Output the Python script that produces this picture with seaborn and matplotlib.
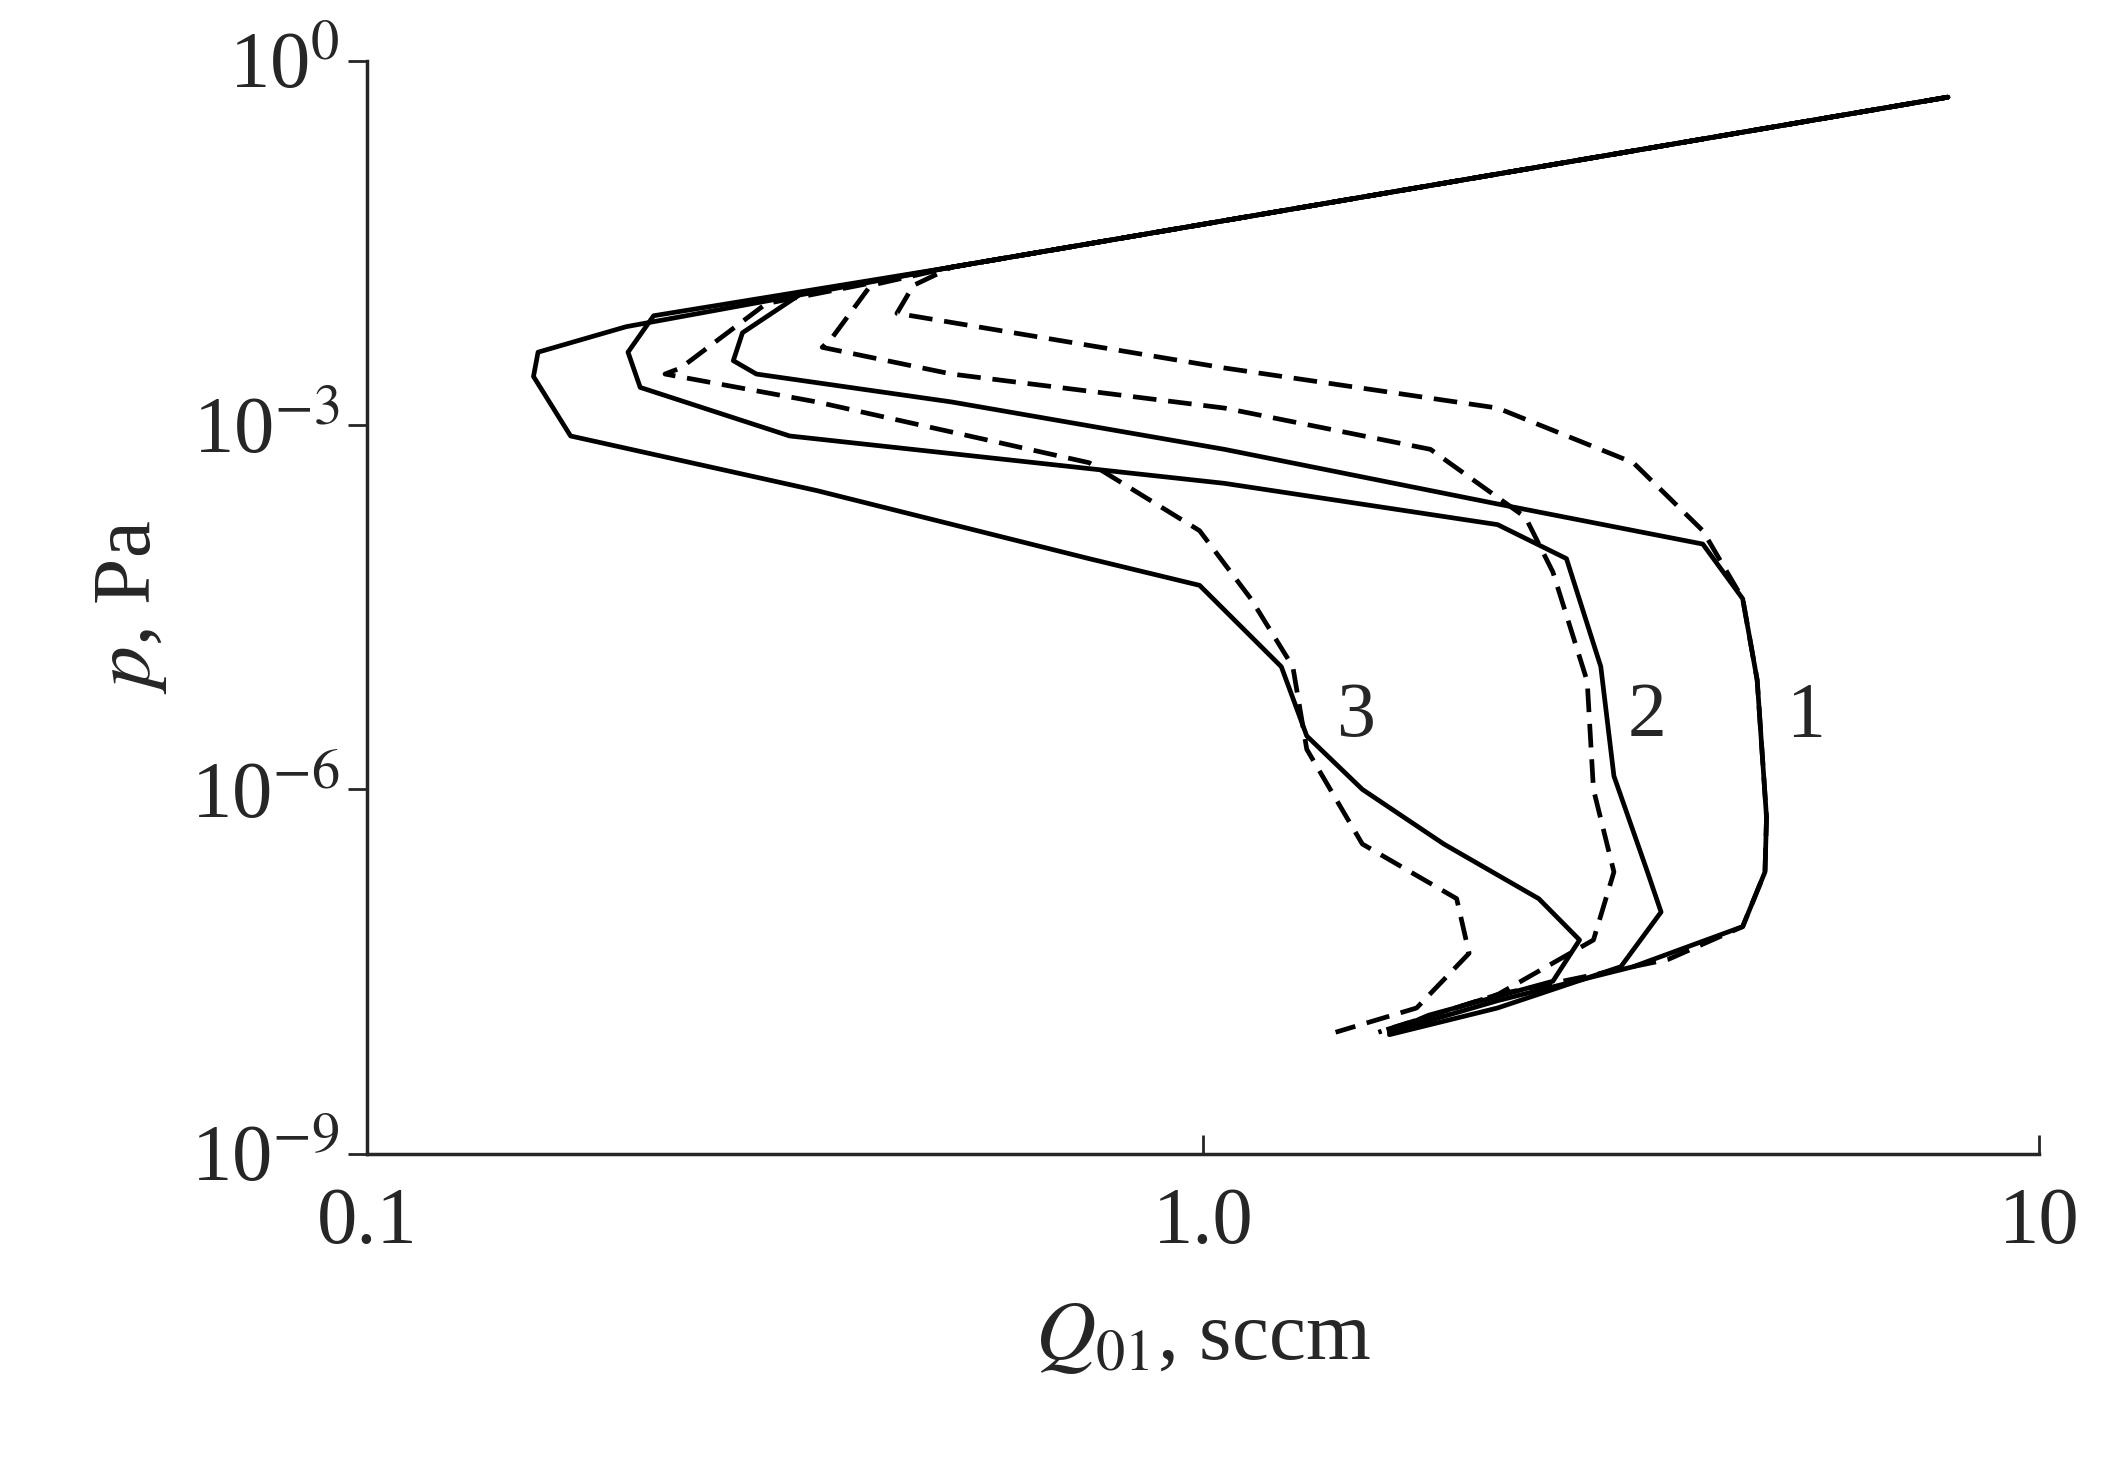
import numpy as np
import pandas as pd
import matplotlib
matplotlib.use("Agg")
import matplotlib.pyplot as plt
import seaborn as sns

# Values: Q in sccm, p given as log10(p / Pa)
trunk_q = [7.78, 0.50]
trunk_lp = [-0.30, -1.70]

s1_q = [0.33, 0.281, 0.274, 0.292, 0.50, 1.06, 2.25, 3.96, 4.42, 4.60, 4.72, 4.70, 4.42, 3.27, 2.25, 1.67]
s1_lp = [-1.92, -2.24, -2.47, -2.58, -2.81, -3.20, -3.65, -3.98, -4.43, -5.10, -6.23, -6.68, -7.13, -7.46, -7.74, -8.00]

s2_q = [0.22, 0.205, 0.212, 0.32, 1.06, 2.25, 2.72, 2.99, 3.10, 3.40, 3.53, 3.16, 2.25, 1.67]
s2_lp = [-2.10, -2.40, -2.69, -3.09, -3.48, -3.82, -4.10, -4.99, -5.89, -6.68, -7.01, -7.46, -7.80, -8.02]

s3_q = [0.204, 0.160, 0.158, 0.175, 0.345, 0.73, 0.99, 1.24, 1.33, 1.55, 1.94, 2.52, 2.82, 2.62, 1.86, 1.67]
s3_lp = [-2.19, -2.40, -2.60, -3.09, -3.54, -4.10, -4.32, -4.99, -5.56, -6.00, -6.45, -6.90, -7.24, -7.58, -7.86, -8.00]

d1_q = [0.45, 0.43, 1.06, 2.25, 3.27, 3.96, 4.42, 4.60, 4.72, 4.70, 4.42, 3.60, 2.25, 1.62]
d1_lp = [-1.85, -2.08, -2.53, -2.86, -3.31, -3.87, -4.43, -5.10, -6.23, -6.68, -7.13, -7.40, -7.69, -8.00]

d2_q = [0.40, 0.358, 0.35, 0.50, 1.06, 1.87, 2.43, 2.62, 2.88, 2.93, 3.10, 2.93, 2.25, 1.62]
d2_lp = [-1.85, -2.30, -2.36, -2.58, -2.86, -3.20, -3.76, -4.21, -5.11, -6.00, -6.68, -7.24, -7.69, -8.00]

d3_q = [0.30, 0.237, 0.227, 0.345, 0.73, 0.99, 1.14, 1.28, 1.33, 1.55, 2.01, 2.08, 1.80, 1.44]
d3_lp = [-2.00, -2.53, -2.58, -2.81, -3.31, -3.87, -4.43, -4.99, -5.67, -6.45, -6.90, -7.35, -7.80, -8.00]

labels = ["1", "2", "3"]
label_q = [5.25, 3.40, 1.52]
label_lp = [-5.41, -5.41, -5.41]

curves = [("s1", "solid", s1_q, s1_lp), ("s2", "solid", s2_q, s2_lp), ("s3", "solid", s3_q, s3_lp),
          ("d1", "dashed", d1_q, d1_lp), ("d2", "dashed", d2_q, d2_lp), ("d3", "dashed", d3_q, d3_lp)]
rows = []
for name, kind, q, lp in curves:
    # branches that leave the trunk above Q=0.5 start from the top point only
    if q[0] < 0.5:
        qq, ll = trunk_q + q, trunk_lp + lp
    else:
        qq, ll = trunk_q[:1] + q, trunk_lp[:1] + lp
    for i, (a, b) in enumerate(zip(qq, ll)):
        rows.append({"curve": name, "kind": kind, "order": i, "Q": a, "p": 10.0 ** b})
df = pd.DataFrame(rows)

sns.set_style("ticks")
plt.rcParams["font.family"] = ["Liberation Serif", "DejaVu Serif"]
plt.rcParams["mathtext.fontset"] = "stix"

fig = plt.figure(figsize=(21.24, 14.81), dpi=100)
ax = fig.add_axes([0.173, 0.221, 0.787, 0.738])
for name, g in df.groupby("curve"):
    kind = g["kind"].iloc[0]
    sns.lineplot(data=g, x="Q", y="p", sort=False, estimator=None, ax=ax, color="black",
                 lw=3.4, linestyle="-" if kind == "solid" else (0, (5, 2.5)), legend=False)

for t, q, lp in zip(labels, label_q, label_lp):
    ax.text(q, 10.0 ** lp, t, fontsize=56, ha="center", va="center")

ax.set_xscale("log")
ax.set_yscale("log")
ax.set_xlim(0.1, 10)
ax.set_ylim(1e-9, 1)
ax.set_xticks([0.1, 1.0, 10])
ax.set_xticklabels(["0.1", "1.0", "10"])
ax.set_yticks([1e-9, 1e-6, 1e-3, 1])
ax.set_yticklabels([r"10$^{-9}$", r"10$^{-6}$", r"10$^{-3}$", r"10$^{0}$"])
ax.minorticks_off()
ax.tick_params(axis="x", direction="in", length=14, width=2, labelsize=58, pad=24)
ax.tick_params(axis="y", direction="out", length=14, width=2, labelsize=58, pad=6)
for s in ["left", "bottom"]:
    ax.spines[s].set_linewidth(2.5)
sns.despine(ax=ax)
ax.set_xlabel(r"$Q_{01}$, sccm", fontsize=60, labelpad=30)
ax.set_ylabel(r"$p$, Pa", fontsize=60, labelpad=16)

fig.savefig("out.png", dpi=100, facecolor="white")
